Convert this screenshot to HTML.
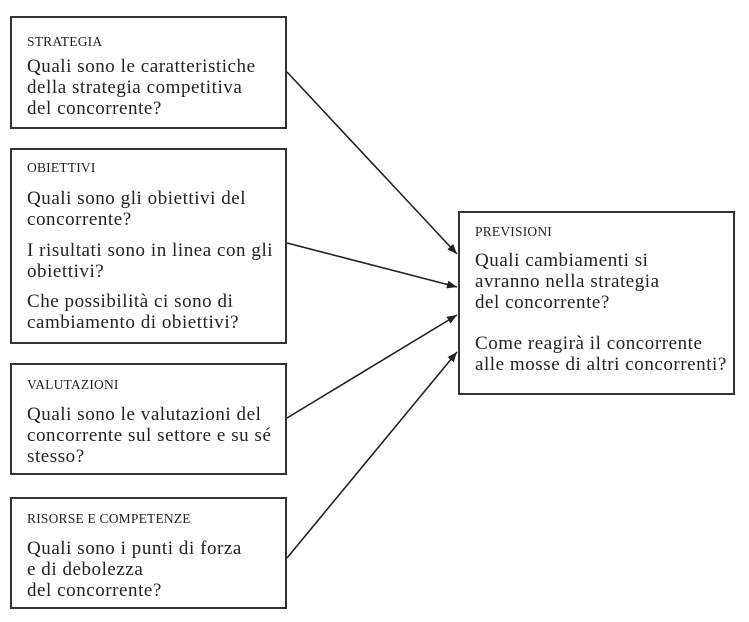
<!DOCTYPE html>
<html><head><meta charset="utf-8"><style>
body{margin:0;width:749px;height:622px;background:#fff;position:relative;overflow:hidden;font-family:"Liberation Serif",serif;color:#222}
.b{position:absolute;border:2px solid #333;box-sizing:border-box}
.t{position:absolute;white-space:nowrap;font-size:19px;line-height:21px;letter-spacing:0.55px}
.l{position:absolute;white-space:nowrap;font-size:13.5px;line-height:14px;letter-spacing:0.2px}
svg{position:absolute;left:0;top:0}
</style></head><body>
<div class="b" style="left:10px;top:16px;width:277px;height:113px"></div>
<div class="b" style="left:10px;top:148px;width:277px;height:196px"></div>
<div class="b" style="left:10px;top:363px;width:277px;height:112px"></div>
<div class="b" style="left:10px;top:497px;width:277px;height:112px"></div>
<div class="b" style="left:458px;top:211px;width:277px;height:184px"></div>

<div class="l" style="left:27px;top:35px">STRATEGIA</div>
<div class="t" style="left:27px;top:56px">Quali sono le caratteristiche<br>della strategia competitiva<br>del concorrente?</div>

<div class="l" style="left:27px;top:161px">OBIETTIVI</div>
<div class="t" style="left:27px;top:188px">Quali sono gli obiettivi del<br>concorrente?</div>
<div class="t" style="left:27px;top:240px">I risultati sono in linea con gli<br>obiettivi?</div>
<div class="t" style="left:27px;top:291px">Che possibilità ci sono di<br>cambiamento di obiettivi?</div>

<div class="l" style="left:27px;top:378px">VALUTAZIONI</div>
<div class="t" style="left:27px;top:404px">Quali sono le valutazioni del<br>concorrente sul settore e su sé<br>stesso?</div>

<div class="l" style="left:27px;top:512px">RISORSE E COMPETENZE</div>
<div class="t" style="left:27px;top:538px">Quali sono i punti di forza<br>e di debolezza<br>del concorrente?</div>

<div class="l" style="left:475px;top:225px">PREVISIONI</div>
<div class="t" style="left:475px;top:250px">Quali cambiamenti si<br>avranno nella strategia<br>del concorrente?</div>
<div class="t" style="left:475px;top:333px">Come reagirà il concorrente<br>alle mosse di altri concorrenti?</div>

<svg width="749" height="622">
<defs><marker id="a" markerWidth="10" markerHeight="8" refX="10" refY="4" orient="auto" markerUnits="userSpaceOnUse"><path d="M0,0 L10,4 L0,8 z" fill="#222"/></marker></defs>
<g stroke="#222" stroke-width="1.6" fill="none" marker-end="url(#a)">
<line x1="287" y1="72" x2="457" y2="254"/>
<line x1="287" y1="243" x2="457" y2="287"/>
<line x1="287" y1="418" x2="457" y2="315"/>
<line x1="287" y1="558" x2="457" y2="352"/>
</g></svg>
</body></html>
